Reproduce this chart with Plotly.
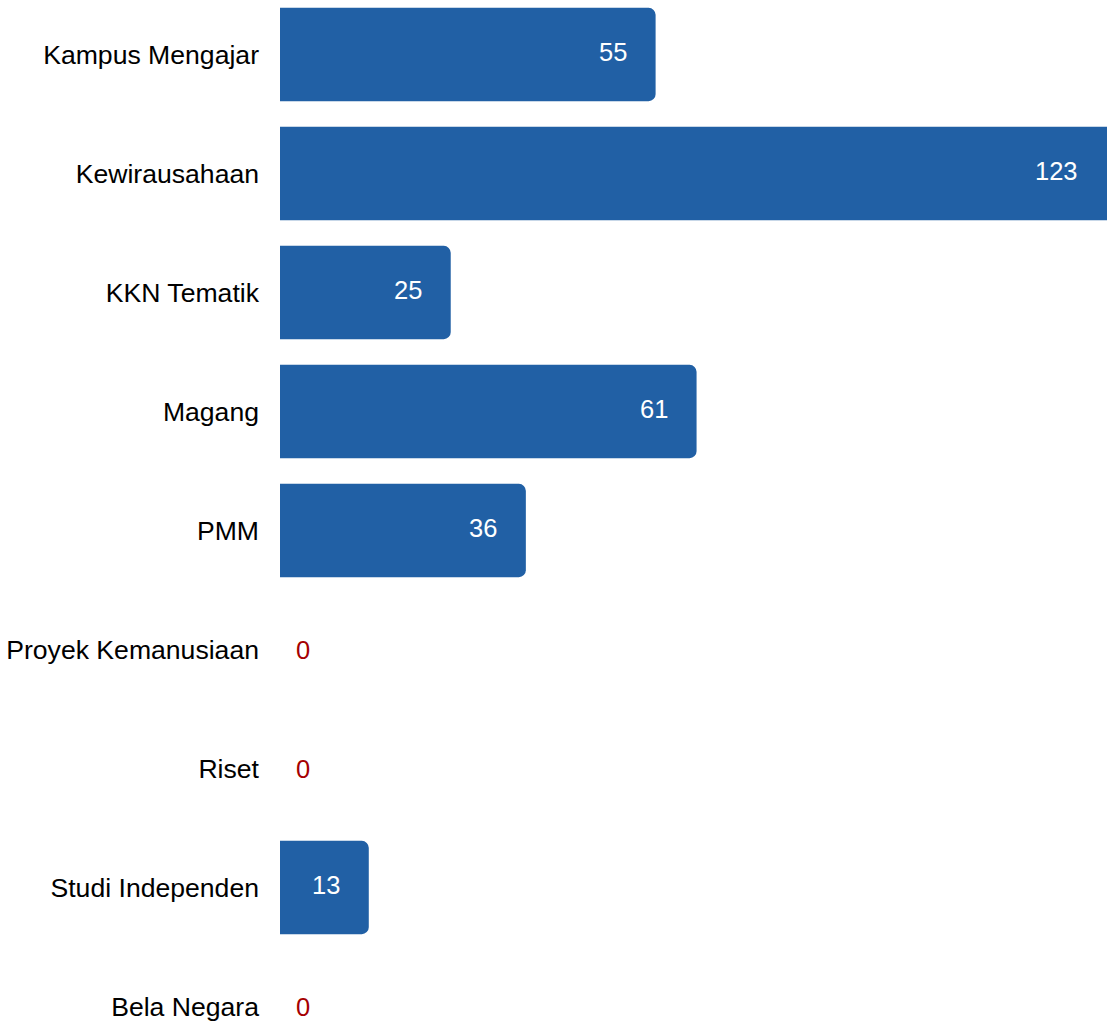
import plotly.graph_objects as go

categories = ["Kampus Mengajar", "Kewirausahaan", "KKN Tematik", "Magang", "PMM",
              "Proyek Kemanusiaan", "Riset", "Studi Independen", "Bela Negara"]
values = [55, 123, 25, 61, 36, 0, 0, 13, 0]

BAR_COLOR = "#2160A5"
ZERO_COLOR = "#A50000"
XMAX = 121.1

fig = go.Figure(go.Bar(
    x=values, y=categories, orientation="h",
    marker=dict(color=BAR_COLOR, line=dict(width=0)),
    hoverinfo="skip",
))

annotations = []
for c, v in zip(categories, values):
    if v > 0:
        annotations.append(dict(
            x=min(v, XMAX), y=c, xref="x", yref="y", text=str(v),
            showarrow=False, xanchor="right", yanchor="middle",
            xshift=-27, yshift=3,
            font=dict(family="Liberation Sans, Arial", size=25.5, color="white"),
        ))
    else:
        annotations.append(dict(
            x=0, y=c, xref="x", yref="y", text=str(v),
            showarrow=False, xanchor="center", yanchor="middle",
            xshift=23,
            font=dict(family="Liberation Sans, Arial", size=25.5, color=ZERO_COLOR),
        ))

fig.update_layout(
    width=1107, height=1022,
    margin=dict(l=280, r=0, t=0, b=0, pad=0),
    paper_bgcolor="white", plot_bgcolor="white",
    bargap=0.216,
    barcornerradius=7,
    showlegend=False,
    annotations=annotations,
    xaxis=dict(range=[0, XMAX], visible=False, fixedrange=True),
    yaxis=dict(
        range=[(1022 - 54.5) / 119, -54.5 / 119],
        showgrid=False, zeroline=False, showline=False, ticks="",
        ticklabelstandoff=20,
        tickfont=dict(family="Liberation Sans, Arial", size=26.6, color="black"),
        fixedrange=True,
    ),
)

fig.write_html("out.html", post_script="document.body.style.margin='0';",
               config={"displayModeBar": False})
